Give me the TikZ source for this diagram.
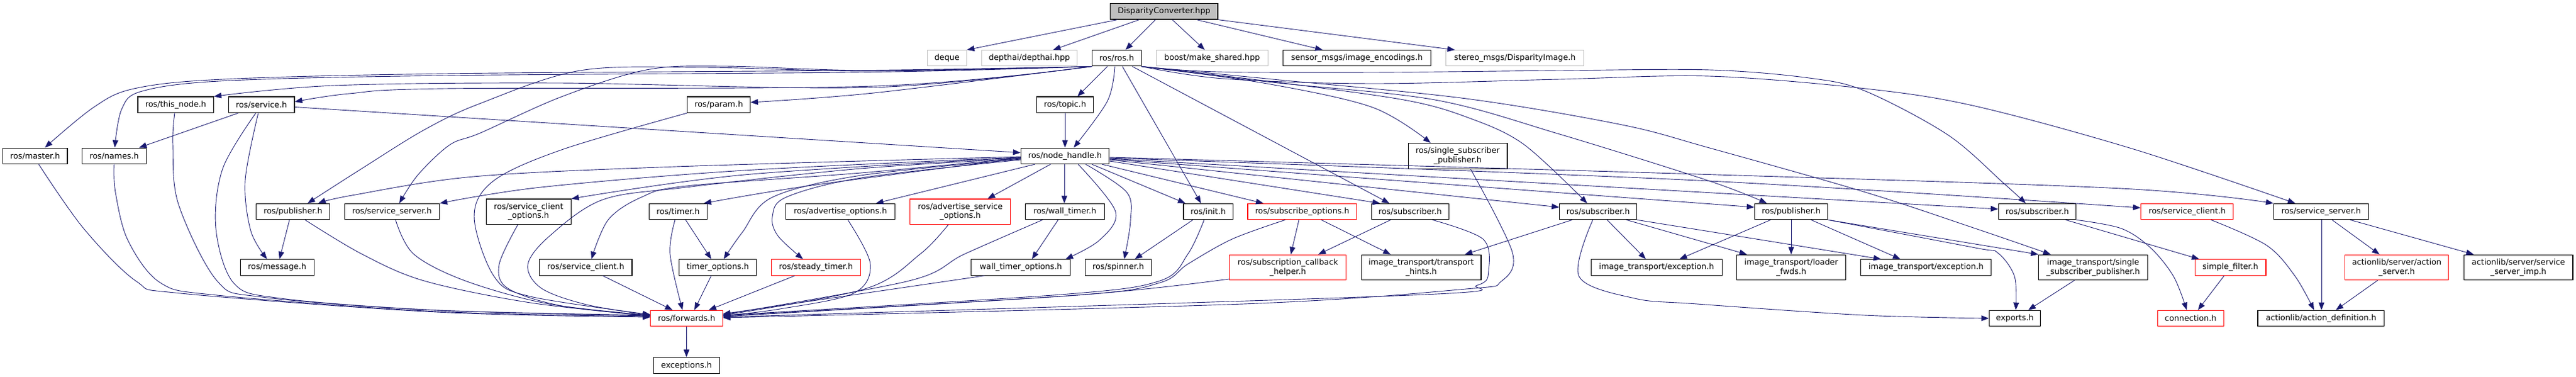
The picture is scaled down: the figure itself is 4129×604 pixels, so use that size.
\documentclass[tikz,border=0pt]{standalone}
\usepackage{fontspec}
\setmainfont{DejaVu Sans}
\usetikzlibrary{arrows.meta}
\definecolor{edgec}{HTML}{191970}
\definecolor{redb}{HTML}{FF0000}
\definecolor{grayb}{HTML}{BFBFBF}
\definecolor{rootf}{HTML}{BFBFBF}
\newcommand\edgeplot[1]{\draw[e] plot[smooth,tension=0.55] coordinates {#1};}
\begin{document}
\begin{tikzpicture}[x=1pt,y=-1pt,
  box/.style={draw=black, line width=1.1pt, inner sep=0pt, minimum height=25.5pt, align=center,
    font=\fontsize{12.8}{14.6}\selectfont, fill=white},
  tall/.style={box, minimum height=40.5pt},
  redbox/.style={draw=redb},
  graybox/.style={draw=grayb},
  e/.style={draw=edgec, line width=0.9pt, -{Triangle[length=12pt,width=9pt]}}]
\useasboundingbox (0,0) rectangle (4129,604);
% row 0
\node[box, fill=rootf, minimum width=172.4pt] (root) at (1865.8,18.3) {DisparityConverter.hpp};
% row 1
\node[box, graybox, minimum width=63pt] (deque) at (1517.8,93.2) {deque};
\node[box, graybox, minimum width=152.3pt] (depthai) at (1650,93.2) {depthai/depthai.hpp};
\node[box, minimum width=78.6pt] (ros) at (1789.9,93.2) {ros/ros.h};
\node[box, graybox, minimum width=179pt] (boost) at (1942.8,93.2) {boost/make\_shared.hpp};
\node[box, minimum width=237.1pt] (imgenc) at (2175,93.2) {sensor\_msgs/image\_encodings.h};
\node[box, graybox, minimum width=221pt] (disp) at (2428.2,93.2) {stereo\_msgs/DisparityImage.h};
% row 2
\node[box, minimum width=121.4pt] (thisnode) at (281.7,167.8) {ros/this\_node.h};
\node[box, minimum width=105.9pt] (service) at (419,167.8) {ros/service.h};
\node[box, minimum width=100.4pt] (param) at (1152.1,167.8) {ros/param.h};
\node[box, minimum width=90.6pt] (topic) at (1707.1,167.8) {ros/topic.h};
% row 3
\node[box, minimum width=103.5pt] (master) at (56.25,249.8) {ros/master.h};
\node[box, minimum width=102.7pt] (names) at (183,249.8) {ros/names.h};
\node[box, minimum width=141.6pt] (nh) at (1707.1,249.8) {ros/node\_handle.h};
\node[tall, minimum width=158.9pt] (ssp) at (2336.5,249.8) {ros/single\_subscriber\\\_publisher.h};
% row 4
\node[box, minimum width=117.9pt] (pubA) at (469.6,339) {ros/publisher.h};
\node[box, minimum width=152.3pt] (ssA) at (628.3,339) {ros/service\_server.h};
\node[tall, minimum width=136.2pt] (sco) at (847.2,339.2) {ros/service\_client\\\_options.h};
\node[box, minimum width=92.4pt] (timer) at (1086.9,339) {ros/timer.h};
\node[box, minimum width=175.1pt] (advopt) at (1347,339) {ros/advertise\_options.h};
\node[tall, redbox, minimum width=161.1pt] (aso) at (1539.2,339.2) {ros/advertise\_service\\\_options.h};
\node[box, minimum width=126.8pt] (wall) at (1706.9,339) {ros/wall\_timer.h};
\node[box, minimum width=79.1pt] (init) at (1936.5,339) {ros/init.h};
\node[box, redbox, minimum width=174.4pt] (subopt) at (2087.2,339) {ros/subscribe\_options.h};
\node[box, minimum width=123.6pt] (subB) at (2260.3,339) {ros/subscriber.h};
\node[box, minimum width=123.7pt] (subC) at (2561.6,339) {ros/subscriber.h};
\node[box, minimum width=117.4pt] (pubB) at (2871.1,339) {ros/publisher.h};
\node[box, minimum width=124.1pt] (subD) at (3265.5,339) {ros/subscriber.h};
\node[box, redbox, minimum width=148.3pt] (scR) at (3505.7,339) {ros/service\_client.h};
\node[box, minimum width=152.1pt] (ssR) at (3720.5,339) {ros/service\_server.h};
% row 5
\node[box, minimum width=117.8pt] (message) at (444.2,428.4) {ros/message.h};
\node[box, minimum width=148.2pt] (sc) at (938.9,428.4) {ros/service\_client.h};
\node[box, minimum width=124.1pt] (topt) at (1150.5,428.4) {timer\_options.h};
\node[box, redbox, minimum width=142.4pt] (steady) at (1307.9,428.4) {ros/steady\_timer.h};
\node[box, minimum width=158.9pt] (wto) at (1636.3,428.4) {wall\_timer\_options.h};
\node[box, minimum width=105.8pt] (spinner) at (1792.4,428.4) {ros/spinner.h};
\node[tall, redbox, minimum width=187.2pt] (sch) at (2064.3,428.4) {ros/subscription\_callback\\\_helper.h};
\node[tall, minimum width=191.9pt] (hints) at (2278,428.4) {image\_transport/transport\\\_hints.h};
\node[box, minimum width=209.9pt] (exc1) at (2655.2,428.4) {image\_transport/exception.h};
\node[tall, minimum width=174.6pt] (loader) at (2871.1,428.4) {image\_transport/loader\\\_fwds.h};
\node[box, minimum width=209.4pt] (exc2) at (3087.2,428.4) {image\_transport/exception.h};
\node[tall, minimum width=174.5pt] (itssp) at (3355,428.4) {image\_transport/single\\\_subscriber\_publisher.h};
\node[box, redbox, minimum width=113.9pt] (sfilter) at (3575,428.4) {simple\_filter.h};
\node[tall, redbox, minimum width=166.5pt] (aserver) at (3841.6,428.4) {actionlib/server/action\\\_server.h};
\node[tall, minimum width=174.4pt] (ssimp) at (4036.7,428.4) {actionlib/server/service\\\_server\_imp.h};
% row 6
\node[box, redbox, minimum width=115.2pt] (forwards) at (1100.5,510) {ros/forwards.h};
\node[box, minimum width=82.6pt] (exports) at (3229.6,510) {exports.h};
\node[box, redbox, minimum width=105.5pt] (connection) at (3511.3,510) {connection.h};
\node[box, minimum width=202.7pt] (adef) at (3720.3,510) {actionlib/action\_definition.h};
% row 7
\node[box, minimum width=105.8pt] (exceptions) at (1100.3,585.5) {exceptions.h};

% ---- edges from root
\draw[e] (root.south -| 1791,0) -- (deque.north east);
\draw[e] (root.south -| 1826,0) -- (depthai.north -| 1688,0);
\draw[e] (root.south -| 1852,0) -- (ros.north -| 1804,0);
\draw[e] (root.south -| 1879,0) -- (boost.north -| 1931,0);
\draw[e] (root.south -| 1918,0) -- (imgenc.north -| 2120,0);
\draw[e] (root.south east) -- (disp.north -| 2332,0);
% ---- ros.h to the left
\edgeplot{(ros.south west) (1400,112.5) (714,118) (357,127) (215,142) (150,172) (master.north -| 72,0)}
\edgeplot{(ros.south west) (1400,115.5) (714,121) (360,129.5) (228,146) (195,175) (names.north -| 184,0)}
\edgeplot{(ros.south west) (1400,140) (893,133) (536,137) (thisnode.north east)}
\edgeplot{(ros.south west) (1400,138) (714,142) (560,150) (service.east |- 0,163)}
\edgeplot{(ros.south west) (1400,149) (param.east |- 0,164)}
\edgeplot{(ros.south west) (1400,114) (1126,108) (930,113) (769,166) (680,208) (580,270) (pubA.north -| 493,0)}
\edgeplot{(ros.south west) (1400,113) (1160,106) (1036,112) (900,155) (770,213) (721,232) (670,280) (ssA.north -| 640,0)}
% ---- ros.h downwards
\draw[e] (ros.south -| 1775,0) -- (topic.north -| 1727,0);
\edgeplot{(ros.south -| 1787,0) (1775,162) (nh.north -| 1721,0)}
\draw[e] (ros.south -| 1799,0) -- (init.north -| 1925,0);
\draw[e] (ros.south -| 1815,0) -- (subB.north -| 2227,0);
% ---- ros.h to the right
\edgeplot{(ros.south east) (2025,133) (2200,172) (ssp.north -| 2293,0)}
\edgeplot{(ros.south east) (2040,131) (2250,160) (2352,188) (2442,231) (subC.north -| 2544,0)}
\edgeplot{(ros.south east) (2040,132) (2300,160) (2500,215) (2740,290) (pubB.north -| 2832,0)}
\edgeplot{(ros.south east) (2040,127) (2350,158) (2600,200) (2740,237) (2990,308) (3166,366) (itssp.north -| 3287,0)}
\edgeplot{(ros.south east) (1950,115) (2200,116) (2500,113) (2740,112) (2900,125) (2990,146) (3122,216) (3211,293) (subD.north -| 3247,0)}
\edgeplot{(ros.south east) (1960,126) (2200,134) (2500,127) (2740,122) (2990,142) (3166,170) (3420,239) (ssR.north -| 3679,0)}
% ---- service, this_node, master, names, param, topic
\draw[e] (service.south -| 382,0) -- (names.north -| 223,0);
\edgeplot{(service.south -| 414,0) (393,289) (402,370) (message.north -| 428,0)}
\edgeplot{(service.south -| 410,0) (357,270) (346,366) (375,454) (450,478) (700,497) (forwards.west |- 0,506)}
\draw[e] (service.east |- 0,171.5) -- (nh.west |- 0,244.6);
\edgeplot{(thisnode.south -| 280,0) (277,231) (286,327) (348,450) (420,476) (700,497) (forwards.west |- 0,505)}
\edgeplot{(master.south -| 62,0) (134,366) (219,451) (290,470) (700,500) (forwards.west |- 0,508)}
\edgeplot{(names.south -| 183,0) (185,308) (205,385) (257,453) (348,473) (700,499) (forwards.west |- 0,507)}
\edgeplot{(param.south west) (903,239) (792,289) (760,347) (792,443) (850,475) (forwards.west |- 0,504)}
\draw[e] (topic.south) -- (nh.north -| 1707.1,0);
% ---- node_handle
\edgeplot{(nh.west |- 0,254) (1380,270) (1100,300) (966,320) (881,378) (846,424) (868,462) (940,488) (forwards.west |- 0,505)}
\edgeplot{(nh.west |- 0,251) (1084,267) (759,283) (564,313) (pubA.north -| 510,0)}
\edgeplot{(nh.west |- 0,252) (1193,273) (867,300) (ssA.north east)}
\edgeplot{(nh.west |- 0,252.5) (1193,280) (sco.north east)}
\edgeplot{(nh.west |- 0,253) (1380,277) (1100,298) (1028,316) (975,352) (sc.north -| 948,0)}
\edgeplot{(nh.west |- 0,253.5) (1301,297) (timer.north -| 1128,0)}
\edgeplot{(nh.west |- 0,255) (1380,281) (1238,316) (1190,372) (topt.north -| 1160,0)}
\edgeplot{(nh.west |- 0,256) (1380,285) (1260,316) (1238,347) (1247,378) (steady.north -| 1287,0)}
\draw[e] (nh.south -| 1659,0) -- (advopt.north -| 1404,0);
\draw[e] (nh.south -| 1684,0) -- (aso.north -| 1583,0);
\draw[e] (nh.south -| 1706,0) -- (wall.north -| 1706,0);
\edgeplot{(nh.south -| 1728,0) (1788,339) (1762,385) (wto.north -| 1708,0)}
\edgeplot{(nh.south -| 1740,0) (1806,308) (1812,354) (spinner.north -| 1802,0)}
\draw[e] (nh.south -| 1750,0) -- (init.north -| 1900,0);
\draw[e] (nh.south -| 1766,0) -- (subopt.north -| 2025,0);
\draw[e] (nh.east |- 0,258) -- (subB.north -| 2212,0);
\draw[e] (nh.east |- 0,256) -- (subC.west |- 0,332);
\draw[e] (nh.east |- 0,255) -- (pubB.west |- 0,332);
\draw[e] (nh.east |- 0,254) -- (subD.west |- 0,335);
\edgeplot{(nh.east |- 0,253) (2720,289) (scR.west |- 0,333)}
\edgeplot{(nh.east |- 0,252) (2720,279) (3400,302) (ssR.north west)}
% ---- row 4 sources
\draw[e] (pubA.south -| 464,0) -- (message.north -| 448,0);
\edgeplot{(pubA.south -| 489,0) (580,407) (680,450) (850,485) (forwards.west |- 0,506)}
\edgeplot{(ssA.south -| 634,0) (663,407) (746,450) (880,487) (forwards.west |- 0,505)}
\edgeplot{(sco.south -| 830,0) (800,424) (814,462) (900,490) (forwards.west |- 0,506)}
\draw[e] (timer.south -| 1099,0) -- (topt.north -| 1140,0);
\edgeplot{(timer.south -| 1082,0) (1074,407) (forwards.north -| 1094,0)}
\edgeplot{(advopt.south -| 1359,0) (1395,423) (1368,470) (1250,495) (forwards.east |- 0,506)}
\edgeplot{(aso.south -| 1520,0) (1475,407) (1386,463) (forwards.east |- 0,505)}
\draw[e] (wall.south -| 1696,0) -- (wto.north -| 1654,0);
\edgeplot{(wall.south -| 1671,0) (1546,407) (1457,450) (forwards.east |- 0,504)}
\draw[e] (init.south -| 1912,0) -- (spinner.north -| 1819,0);
\edgeplot{(init.south -| 1930,0) (1904,407) (1859,450) (1700,472) (forwards.east |- 0,505)}
\draw[e] (subopt.south -| 2082,0) -- (sch.north -| 2069,0);
\draw[e] (subopt.south -| 2118,0) -- (hints.north -| 2229,0);
\edgeplot{(subopt.south -| 2060,0) (1975,383) (1904,423) (1859,453) (1725,473) (forwards.east |- 0,506)}
\draw[e] (subB.south -| 2229,0) -- (sch.north -| 2113,0);
\edgeplot{(subB.south -| 2296,0) (2377,383) (2386,433) (2368,457) (2260,473) (forwards.east |- 0,508)}
\edgeplot{(ssp.south -| 2357,0) (2424,404) (2406,451) (2350,463) (1993,487) (forwards.east |- 0,509)}
\draw[e] (subC.south -| 2520,0) -- (hints.north -| 2348,0);
\draw[e] (subC.south -| 2576,0) -- (exc1.north -| 2638,0);
\edgeplot{(subC.south -| 2553,0) (2531,443) (2620,478) (2720,487) (2988,505) (exports.west |- 0,510)}
\draw[e] (subC.south -| 2607,0) -- (loader.north -| 2800,0);
\draw[e] (subC.south east) -- (exc2.north -| 3015,0);
\draw[e] (pubB.south -| 2838,0) -- (exc1.north -| 2692,0);
\draw[e] (pubB.south -| 2871,0) -- (loader.north -| 2871,0);
\draw[e] (pubB.south -| 2903,0) -- (exc2.north -| 3046,0);
\edgeplot{(pubB.south east) (3166,397) (3202,405) (3229,443) (exports.north -| 3231,0)}
\draw[e] (pubB.south east) -- (itssp.north west);
\draw[e] (subD.south -| 3311,0) -- (sfilter.north -| 3525,0);
\edgeplot{(subD.south east) (3400,366) (3447,397) (3484,443) (connection.north -| 3505,0)}
\edgeplot{(scR.south -| 3544,0) (3633,393) (3679,443) (adef.north -| 3709,0)}
\draw[e] (ssR.south -| 3721,0) -- (adef.north -| 3721,0);
\draw[e] (ssR.south -| 3738,0) -- (aserver.north -| 3814,0);
\draw[e] (ssR.south -| 3767,0) -- (ssimp.north -| 3965,0);
% ---- row 5 sources
\draw[e] (sc.south -| 966,0) -- (forwards.north -| 1078,0);
\draw[e] (topt.south -| 1140,0) -- (forwards.north -| 1113,0);
\draw[e] (steady.south -| 1274,0) -- (forwards.north -| 1136,0);
\draw[e] (wto.south -| 1578,0) -- (forwards.east |- 0,503);
\edgeplot{(sch.west |- 0,447) (1725,473) (forwards.east |- 0,507)}
\draw[e] (itssp.south -| 3325,0) -- (exports.north -| 3251,0);
\draw[e] (sfilter.south -| 3565,0) -- (connection.north -| 3523,0);
\draw[e] (aserver.south -| 3811,0) -- (adef.north -| 3744,0);
\draw[e] (forwards.south) -- (exceptions.north);
\end{tikzpicture}
\end{document}
